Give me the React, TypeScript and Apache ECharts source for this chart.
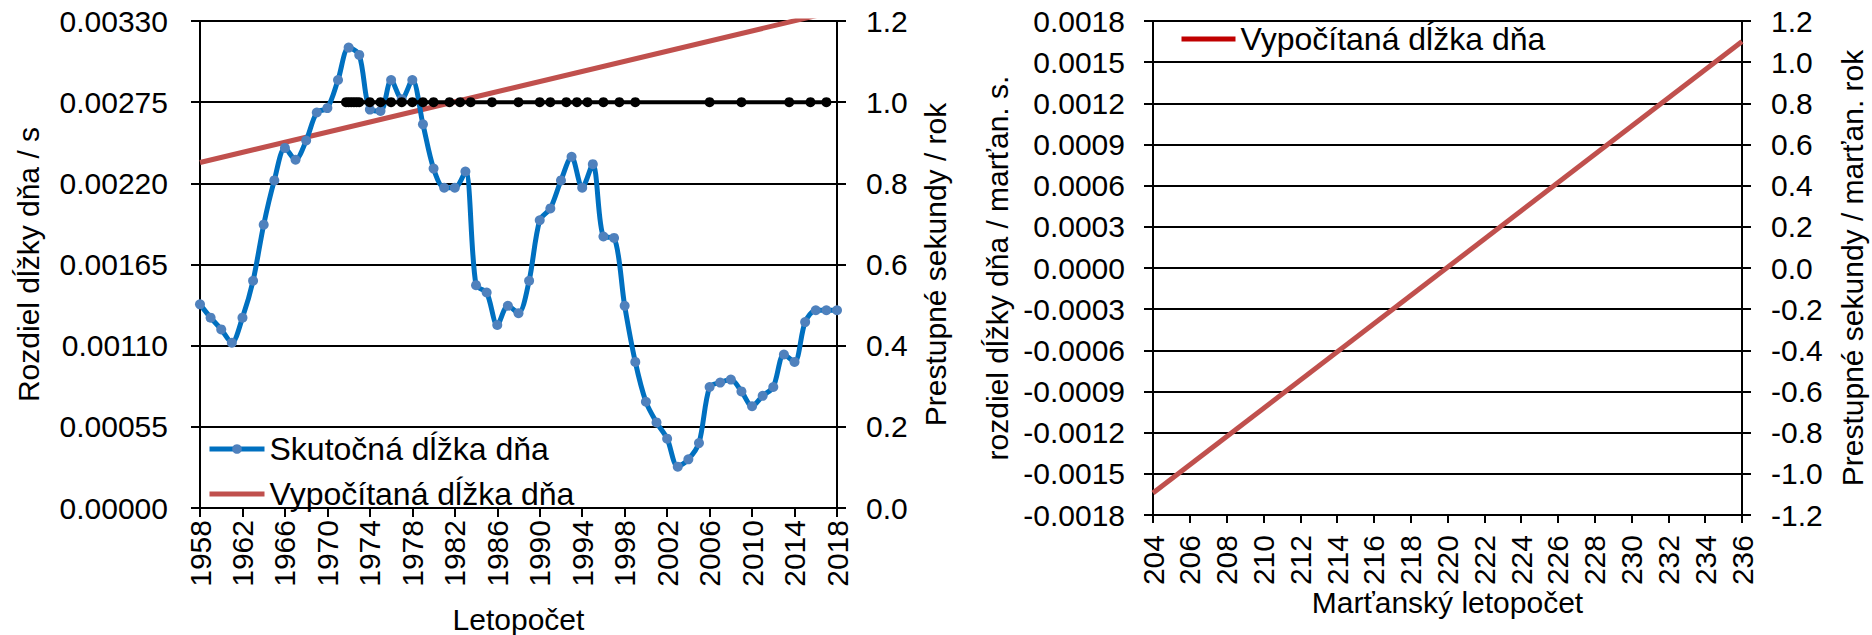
import React, { useEffect, useRef } from "react";
import * as echarts from "echarts";

// ---- Data ----
const years = [
  1958, 1959, 1960, 1961, 1962, 1963, 1964, 1965, 1966, 1967, 1968, 1969, 1970,
  1971, 1972, 1973, 1974, 1975, 1976, 1977, 1978, 1979, 1980, 1981, 1982, 1983,
  1984, 1985, 1986, 1987, 1988, 1989, 1990, 1991, 1992, 1993, 1994, 1995, 1996,
  1997, 1998, 1999, 2000, 2001, 2002, 2003, 2004, 2005, 2006, 2007, 2008, 2009,
  2010, 2011, 2012, 2013, 2014, 2015, 2016, 2017, 2018,
];
const actualLOD = [
  0.00138, 0.00129, 0.00121, 0.00112, 0.00129, 0.00154, 0.00192, 0.00222, 0.00244,
  0.00236, 0.00249, 0.00268, 0.00271, 0.0029, 0.00312, 0.00307, 0.0027, 0.00269,
  0.0029, 0.00277, 0.0029, 0.0026, 0.0023, 0.00217, 0.00217, 0.00228, 0.00151,
  0.00146, 0.00124, 0.00137, 0.00132, 0.00154, 0.00195, 0.00203, 0.00222, 0.00238,
  0.00217, 0.00233, 0.00184, 0.00183, 0.00137, 0.00099, 0.00072, 0.00058, 0.00047,
  0.00028, 0.00033, 0.00044, 0.00082, 0.00085, 0.00087, 0.00079, 0.00069, 0.00076,
  0.00082, 0.00104, 0.00099, 0.00126, 0.00134, 0.00134, 0.00134,
];
const calcYears = [1958, 2018];
const calcLOD = [0.002341, 0.00337];

const leapYears = [
  1971.75, 1972.0, 1972.25, 1972.5, 1972.75, 1973.0, 1974, 1975, 1976, 1977, 1978,
  1979, 1980, 1981.5, 1982.5, 1983.5, 1985.5, 1988, 1990, 1991, 1992.5, 1993.5,
  1994.5, 1996, 1997.5, 1999, 2006, 2009, 2013.5, 2015.5, 2017,
];
const leapPerYear = [
  1, 1, 1, 1, 1, 1, 1, 1, 1, 1, 1, 1, 1, 1, 1, 1, 1, 1, 1, 1, 1, 1, 1, 1, 1, 1, 1,
  1, 1, 1, 1,
];

const marsYears = [204, 236];
const marsLOD = [-0.00164, 0.00165];

const NAME_ACTUAL = "Skutočná dĺžka dňa";
const NAME_CALC = "Vypočítaná dĺžka dňa";

const FONT = "Arial, 'Liberation Sans', sans-serif";
const FS = 30;

const zip = (xs: number[], ys: number[]) => xs.map((x, i) => [x, ys[i]]);
const fix = (d: number) => (v: number) => (Math.abs(v) < 1e-12 ? 0 : v).toFixed(d);

const black = { color: "#000", width: 2 };
const txt = { color: "#000", fontSize: FS, fontFamily: FONT };

function xAxisBase(gridIndex: number, min: number, max: number, interval: number,
  margin: number, tick: number, name: string, nameGap: number) {
  return {
    gridIndex, type: "value", min, max, interval,
    axisLine: { show: true, onZero: false, lineStyle: black },
    axisTick: { show: true, length: tick, lineStyle: black },
    axisLabel: { ...txt, rotate: 90, margin, formatter: (v: number) => String(v) },
    splitLine: { show: false },
    name, nameLocation: "middle", nameGap, nameTextStyle: txt, nameMoveOverlap: false,
  };
}

function yAxisBase(gridIndex: number, position: string, min: number, max: number,
  interval: number, digits: number, margin: number, split: boolean, name: string,
  nameGap: number) {
  return {
    gridIndex, type: "value", position, min, max, interval,
    axisLine: { show: true, onZero: false, lineStyle: black },
    axisTick: { show: true, length: 9, lineStyle: black },
    axisLabel: { ...txt, margin, formatter: fix(digits) },
    splitLine: { show: split, lineStyle: black },
    name, nameLocation: "middle", nameGap, nameTextStyle: txt, nameMoveOverlap: false,
  };
}

export default function App() {
  const ref = useRef<HTMLDivElement>(null);
  useEffect(() => {
    if (!ref.current) return;
    const chart = echarts.init(ref.current, undefined, { renderer: "svg" });
    const option: any = {
      animation: false,
      backgroundColor: "#fff",
      textStyle: { fontFamily: FONT, color: "#000" },
      grid: [
        { left: 200, top: 21, width: 637, height: 487, outerBoundsMode: "none" },
        { left: 1153, top: 21, width: 589, height: 494, outerBoundsMode: "none" },
      ],
      xAxis: [
        xAxisBase(0, 1958, 2018, 4, 12, 9, "Letopočet", 96),
        xAxisBase(1, 204, 236, 2, 20, 8, "Marťanský letopočet", 72),
      ],
      yAxis: [
        yAxisBase(0, "left", 0, 0.0033, 0.00055, 5, 32, true, "Rozdiel dĺžky dňa / s", 157),
        yAxisBase(0, "right", 0, 1.2, 0.2, 1, 29, false, "Prestupné sekundy / rok", 83),
        yAxisBase(1, "left", -0.0018, 0.0018, 0.0003, 4, 28, true, "rozdiel dĺžky dňa / marťan. s.", 141),
        yAxisBase(1, "right", -1.2, 1.2, 0.2, 1, 29, false, "Prestupné sekundy / marťan. rok", 95),
      ],
      legend: [
        {
          orient: "vertical", left: 207, top: 433, padding: 0,
          itemWidth: 55, itemHeight: 12, itemGap: 13,
          textStyle: { color: "#000", fontSize: 32, fontFamily: FONT },
          lineStyle: { width: 5 },
          data: [
            { name: NAME_ACTUAL },
            { name: NAME_CALC, itemStyle: { opacity: 0 } },
          ],
        },
        {
          orient: "vertical", left: 1179, top: 23, padding: 0,
          itemWidth: 54, itemHeight: 12,
          textStyle: { color: "#000", fontSize: 32, fontFamily: FONT },
          lineStyle: { width: 5, color: "#C00000" },
          data: [{ name: NAME_CALC, itemStyle: { opacity: 0 } }],
        },
      ],
      series: [
        {
          name: NAME_CALC, type: "line", xAxisIndex: 0, yAxisIndex: 0,
          data: zip(calcYears, calcLOD), symbol: "none", clip: true,
          lineStyle: { color: "#C0504D", width: 5 }, itemStyle: { color: "#C0504D" }, z: 2,
        },
        {
          name: NAME_ACTUAL, type: "line", xAxisIndex: 0, yAxisIndex: 0,
          data: zip(years, actualLOD), smooth: 0.3, symbol: "circle", symbolSize: 10,
          lineStyle: { color: "#0070C0", width: 5 }, itemStyle: { color: "#4F81BD" }, z: 3,
        },
        {
          name: "Prestupné sekundy", type: "line", xAxisIndex: 0, yAxisIndex: 1,
          data: zip(leapYears, leapPerYear), symbol: "circle", symbolSize: 10,
          lineStyle: { color: "#000", width: 4 }, itemStyle: { color: "#000" }, z: 4,
        },
        {
          name: NAME_CALC, type: "line", xAxisIndex: 1, yAxisIndex: 2,
          data: zip(marsYears, marsLOD), symbol: "none", clip: true,
          lineStyle: { color: "#C0504D", width: 5 }, itemStyle: { color: "#C0504D" }, z: 2,
        },
      ],
    };
    chart.setOption(option);
    return () => chart.dispose();
  }, []);
  return (
    <div
      ref={ref}
      style={{ position: "fixed", left: 0, top: 0, width: 1872, height: 635, background: "#fff" }}
    />
  );
}
